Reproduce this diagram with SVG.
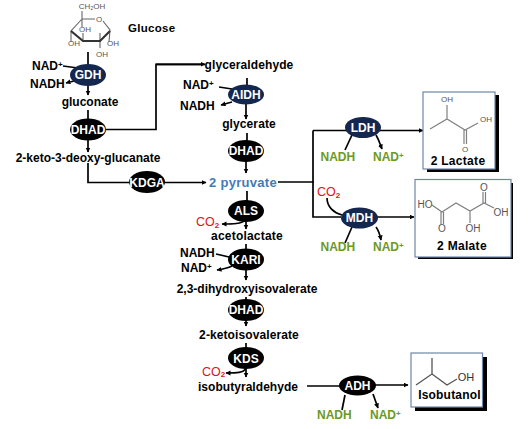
<svg xmlns="http://www.w3.org/2000/svg" width="528" height="429" viewBox="0 0 528 429">
<style>
text{font-family:"Liberation Sans",Arial,sans-serif;font-weight:700;font-size:12px;fill:#000}
.m{text-anchor:middle}
.e{text-anchor:middle;fill:#fff;font-size:12px}
.g{fill:#6b9a1e}.r{fill:#e3101c;font-weight:400;font-size:12.500px}.b{fill:#3f7cb8;font-size:13px}
.s{font-size:8px}
.k{fill:#000}.n{fill:#14274f}
.l{fill:none;stroke:#000;stroke-width:1.7}
.a{marker-end:url(#ar)}
.box{fill:#fff;stroke:#6f86a8;stroke-width:1.2}
.sh{fill:#000}
.c{fill:none;stroke:#666;stroke-width:1.1}
.c2{fill:none;stroke:#808080;stroke-width:1.2}
.c3{fill:none;stroke:#555;stroke-width:1.3}
.cb{fill:none;stroke:#333;stroke-width:2.2}
.t{font-weight:400;font-size:8px;fill:#555}
.u{font-weight:400;font-size:10px;fill:#555}
</style>
<defs><marker id="ar" markerWidth="6" markerHeight="6" refX="4.500" refY="2.500" orient="auto" markerUnits="userSpaceOnUse"><path d="M0 0L5 2.500L0 5Z" fill="#000"/></marker></defs>
<g id="connectors">
<path class="l a" d="M88 52V95"/>
<path class="l" d="M63 66L78 68"/>
<path class="l a" d="M78 80L66 83"/>
<path class="l" d="M88 110V120"/>
<path class="l a" d="M88 135V152"/>
<path class="l" d="M106 129.500H156V64.300H202"/><path class="l a" d="M156 64.300H205"/>
<path class="l a" d="M88 163V182.500H206"/>
<path class="l" d="M247 78V86"/>
<path class="l" d="M219 87L232 89"/><path class="l a" d="M232 102L221 105"/>
<path class="l a" d="M246 104V119"/>
<path class="l" d="M247 133V142"/>
<path class="l a" d="M246 160V173"/>
<path class="l" d="M278 182H314M313 130.500V217H341"/>
<path class="l a" d="M313 130.500H423"/>
<path class="l a" d="M372 217H414"/>
<path class="l" d="M247 191V202"/>
<path class="l a" d="M246 222V229"/>
<path class="l a" d="M246 220C242 224 232 224 222 224"/>
<path class="l" d="M246 244V252"/>
<path class="l a" d="M246 268V280"/>
<path class="l" d="M216 254L229 257"/>
<path class="l a" d="M232 266C228 268 224 269 217 270"/>
<path class="l" d="M246 297V306"/>
<path class="l a" d="M246 320V326"/>
<path class="l" d="M246 343V352"/>
<path class="l a" d="M246 368V377"/>
<path class="l a" d="M246 368C244 373 236 373 226 373"/>
<path class="l" d="M307 386H340"/>
<path class="l a" d="M372 385H408"/>
<path class="l" d="M345 395L342 410"/>
<path class="l a" d="M373 394L378 408"/>
<path class="l" d="M352 135L345 150"/>
<path class="l a" d="M376 135C379 140 380 144 382 149"/>
<path class="l" d="M327 198C327 207 334 213 342 215"/>
<path class="l" d="M352 227L345 243"/>
<path class="l a" d="M376 227C379 231 380 235 381 240"/>
</g>
<g id="glucose">
<path class="c" d="M82 11V19M82 19H95M103 21L110 30L109 42M82 19L71 31V42M82 19V27M100 41V33M100 41V48M83 41V33"/>
<path class="cb" d="M71 31L83 41H100L110 31"/>
<text x="92" y="9" class="t m">CH₂OH</text><text x="99" y="22" class="t m">O</text>
<text x="85" y="32" class="t m">OH</text>
<text x="74" y="46" class="t m">OH</text><text x="113" y="46" class="t m">OH</text><text x="102" y="57" class="t m">OH</text>
<text x="128" y="32" style="font-size:11.500px;letter-spacing:.3px">Glucose</text>
</g>
<g id="gdh"><ellipse class="n" cx="88" cy="75" rx="18" ry="11"/><text x="88" y="79" class="e">GDH</text></g>
<g id="gdh-labels"><text x="32" y="70">NAD<tspan class="s" dy="-3">+</tspan></text><text x="30" y="88">NADH</text><text x="90" y="106" class="m">gluconate</text></g>
<g id="dhad1"><ellipse class="k" cx="88" cy="129.500" rx="18" ry="11"/><text x="88" y="134" class="e">DHAD</text></g>
<g id="keto"><text x="88" y="162" class="m">2-keto-3-deoxy-glucanate</text></g>
<g id="kdga"><ellipse class="k" cx="147" cy="182" rx="18" ry="11"/><text x="147" y="187" class="e">KDGA</text></g>
<g id="glyceraldehyde"><text x="249" y="69" class="m" style="letter-spacing:.1px">glyceraldehyde</text></g>
<g id="aidh"><ellipse class="n" cx="246" cy="94.500" rx="18" ry="10"/><text x="246" y="99" class="e">AIDH</text></g>
<g id="aidh-labels"><text x="183" y="89">NAD<tspan class="s" dy="-3">+</tspan></text><text x="180" y="110">NADH</text></g>
<g id="glycerate"><text x="249" y="128" class="m" style="letter-spacing:.1px">glycerate</text></g>
<g id="dhad2"><ellipse class="k" cx="246" cy="151" rx="18" ry="11"/><text x="246" y="155" class="e">DHAD</text></g>
<g id="pyruvate"><text x="243" y="187" class="m b" style="letter-spacing:.3px">2 pyruvate</text></g>
<g id="als"><ellipse class="k" cx="246" cy="211" rx="18" ry="11"/><text x="246" y="215" class="e">ALS</text></g>
<g id="als-labels"><text x="196" y="226" class="r">CO<tspan class="s r" dy="2" style="font-size:8px;font-weight:700">2</tspan></text><text x="247" y="240" class="m" style="letter-spacing:.2px">acetolactate</text></g>
<g id="kari"><ellipse class="k" cx="246" cy="259.500" rx="18" ry="11"/><text x="246" y="264" class="e">KARI</text></g>
<g id="kari-labels"><text x="180" y="257">NADH</text><text x="181" y="272">NAD<tspan class="s" dy="-3">+</tspan></text></g>
<g id="dihydroxy"><text x="247" y="293" class="m">2,3-dihydroxyisovalerate</text></g>
<g id="dhad3"><ellipse class="k" cx="246" cy="310" rx="18" ry="11"/><text x="246" y="314" class="e">DHAD</text></g>
<g id="ketoiso"><text x="249" y="339" class="m" style="letter-spacing:.1px">2-ketoisovalerate</text></g>
<g id="kds"><ellipse class="k" cx="246" cy="358" rx="18" ry="11"/><text x="246" y="363" class="e">KDS</text></g>
<g id="kds-labels"><text x="202" y="376" class="r">CO<tspan class="s r" dy="1" style="font-size:8px;font-weight:700">2</tspan></text><text x="248" y="390.500" class="m" style="letter-spacing:.05px">isobutyraldehyde</text></g>
<g id="ldh"><ellipse class="n" cx="363" cy="127.500" rx="18" ry="10.500"/><text x="363" y="132" class="e">LDH</text></g>
<g id="ldh-labels"><text x="320.500" y="161" class="g">NADH</text><text x="373" y="161" class="g">NAD<tspan class="s g" dy="-3">+</tspan></text></g>
<g id="mdh"><ellipse class="n" cx="359.500" cy="218" rx="18.500" ry="10.500"/><text x="359.500" y="222" class="e">MDH</text></g>
<g id="mdh-labels"><text x="317" y="196" class="r">CO<tspan class="s r" dy="2" style="font-size:8px;font-weight:700">2</tspan></text><text x="320.500" y="251" class="g">NADH</text><text x="373" y="251" class="g">NAD<tspan class="s g" dy="-3">+</tspan></text></g>
<g id="adh"><ellipse class="k" cx="357.500" cy="385.500" rx="18.500" ry="10"/><text x="357.500" y="390" class="e">ADH</text></g>
<g id="adh-labels"><text x="317" y="419" class="g">NADH</text><text x="370" y="419" class="g">NAD<tspan class="s g" dy="-3">+</tspan></text></g>
<g id="lactate">
<rect class="sh" x="427" y="95" width="72" height="77"/><rect class="box" x="423" y="92" width="72" height="77"/>
<path class="c2" d="M430 129L447 119L465 130L478 123M447 119V105M464 130V144M466.500 130V144"/>
<text x="447" y="102" class="t m">OH</text><text x="486" y="122" class="t m">OH</text><text x="465" y="152" class="t m">O</text>
<text x="458" y="165" class="m" style="letter-spacing:.3px">2 Lactate</text>
</g>
<g id="malate">
<rect class="sh" x="418" y="183" width="95" height="76"/><rect class="box" x="415" y="179.500" width="96" height="77.500"/>
<path class="c2" d="M432 205L442 212L456 203L470 211L484 203L494 208M441 212V224M443.500 212V224M470 211V223M483 203V192M485.500 203V192"/>
<text x="425" y="207.500" class="u m">HO</text><text x="501" y="215.500" class="u m">OH</text><text x="442" y="232" class="u m">O</text><text x="473" y="232" class="u m">OH</text><text x="484" y="191" class="u m">O</text>
<text x="462" y="250" class="m" style="letter-spacing:.3px">2 Malate</text>
</g>
<g id="isobutanol">
<rect class="sh" x="415" y="357" width="72" height="54"/><rect class="box" x="411" y="353" width="71.500" height="54"/>
<path class="c3" d="M416 385L432 374V358M432 374L447 385L457 379"/>
<text x="466" y="381" style="font-size:11px;font-weight:400;fill:#333" class="m">OH</text>
<text x="449.500" y="399" class="m" style="letter-spacing:.2px">Isobutanol</text>
</g>
</svg>
